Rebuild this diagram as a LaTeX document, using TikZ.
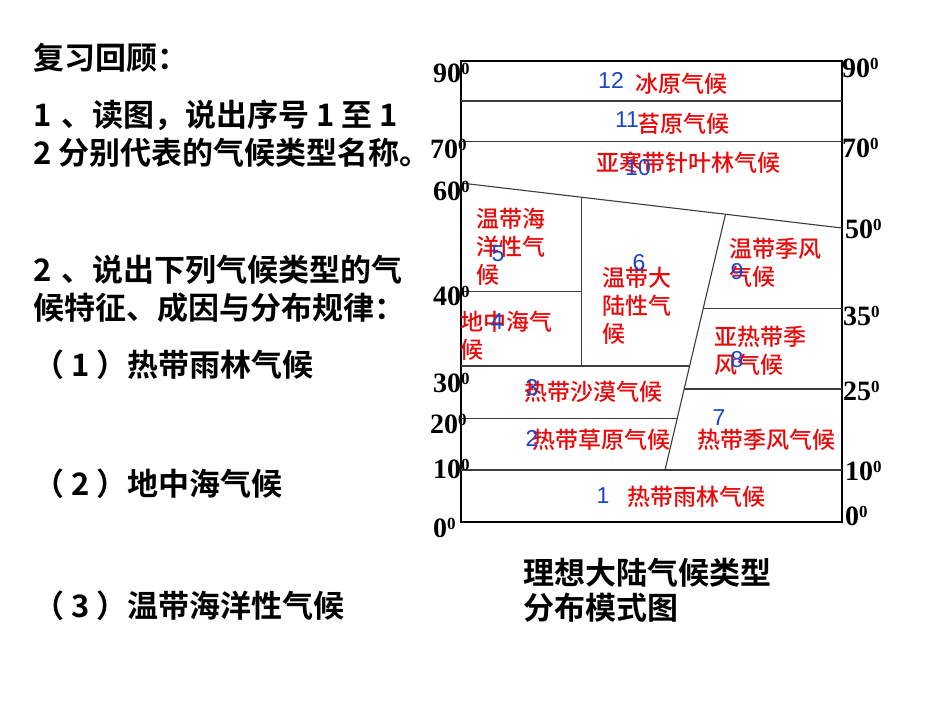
\documentclass[tikz,border=0pt]{standalone}
\usepackage{fontspec}
\setmainfont{Liberation Serif}
\newfontfamily\cjk{Noto Sans CJK SC Medium}
\newfontfamily\cjkb{Noto Sans CJK SC Bold}
\newfontfamily\tnr{Liberation Serif}
\newfontfamily\arialf{Liberation Sans}
\definecolor{zred}{RGB}{232,10,10}
\definecolor{zblue}{RGB}{25,70,200}
\definecolor{zline}{RGB}{60,60,60}
\newcommand\latlab[1]{#1\raisebox{7.5pt}{\fontsize{17}{17}\selectfont 0}}
\tikzset{
  latl/.style={anchor=base west, inner sep=0pt, font=\tnr\bfseries\fontsize{28}{28}\selectfont},
  redtxt/.style={anchor=west, inner sep=0pt, align=left, text=zred, font=\cjk\fontsize{23}{28}\selectfont},
  bluenum/.style={inner sep=0pt, text=zblue, font=\arialf\fontsize{23}{23}\selectfont},
  blacktxt/.style={anchor=west, inner sep=0pt, align=left, font=\cjkb\fontsize{31}{38}\selectfont},
  frame/.style={draw=black, line width=1.2pt},
  zone/.style={draw=zline, line width=1.1pt}
}
\begin{document}
\begin{tikzpicture}[x=1pt,y=-1pt]
\useasboundingbox (0,0) rectangle (950,713);
% frame corners
\coordinate (TL) at (461,61);
\coordinate (TR) at (842,61);
\coordinate (BL) at (461,522);
\coordinate (BR) at (842,522);
\draw[frame] (TL) -- (TR) -- (BR) -- (BL) -- cycle;
% zone boundaries
\coordinate (a1) at (461,101);   \coordinate (a2) at (842,101);
\coordinate (b1) at (461,141.5); \coordinate (b2) at (842,141.5);
\coordinate (s1) at (461,183);   \coordinate (s2) at (842,228);
\coordinate (v1t) at (581.7,197.3); \coordinate (v1b) at (581.7,366);
\coordinate (h40a) at (461,291.7); \coordinate (h40b) at (581.7,291.7);
\coordinate (h30a) at (461,366);   \coordinate (h30b) at (689.6,366);
\coordinate (h20a) at (461,418.3); \coordinate (h20b) at (677.2,418.3);
\coordinate (h10a) at (461,470);   \coordinate (h10b) at (842,470);
\coordinate (t1) at (725.5,214.2); \coordinate (t2) at (665,470);
\coordinate (h35a) at (703.2,308.3); \coordinate (h35b) at (842,308.3);
\coordinate (h25a) at (684.2,389);   \coordinate (h25b) at (842,389);
\draw[zone] (a1) -- (a2);
\draw[zone] (b1) -- (b2);
\draw[zone] (s1) -- (s2);
\draw[zone] (v1t) -- (v1b);
\draw[zone] (h40a) -- (h40b);
\draw[zone] (h30a) -- (h30b);
\draw[zone] (h20a) -- (h20b);
\draw[zone] (h10a) -- (h10b);
\draw[zone] (t1) -- (t2);
\draw[zone] (h35a) -- (h35b);
\draw[zone] (h25a) -- (h25b);
% latitude labels left
\node[latl] (L90) at (433,82) {\latlab{90}};
\node[latl] (L70) at (430,158) {\latlab{70}};
\node[latl] (L60) at (433,200) {\latlab{60}};
\node[latl] (L40) at (433,305) {\latlab{40}};
\node[latl] (L30) at (433,392) {\latlab{30}};
\node[latl] (L20) at (430,433) {\latlab{20}};
\node[latl] (L10) at (433,478) {\latlab{10}};
\node[latl] (L0) at (433,537) {\latlab{0}};
% latitude labels right
\node[latl] (R90) at (842,77) {\latlab{90}};
\node[latl] (R70) at (842,157) {\latlab{70}};
\node[latl] (R50) at (845,238) {\latlab{50}};
\node[latl] (R35) at (843,325) {\latlab{35}};
\node[latl] (R25) at (843,400) {\latlab{25}};
\node[latl] (R10) at (845,480) {\latlab{10}};
\node[latl] (R0) at (845,525) {\latlab{0}};
% climate names
\node[redtxt] (c12) at (635,84) {冰原气候};
\node[redtxt] (c11) at (637,124) {苔原气候};
\node[redtxt] (c10) at (596,163) {亚寒带针叶林气候};
\node[redtxt] (c5) at (476,247) {温带海\\洋性气\\候};
\node[redtxt] (c4) at (460,335.5) {地中海气\\候};
\node[redtxt] (c6) at (602,306) {温带大\\陆性气\\候};
\node[redtxt] (c9) at (729,263) {温带季风\\气候};
\node[redtxt] (c8) at (714,351) {亚热带季\\风气候};
\node[redtxt] (c3) at (524,392) {热带沙漠气候};
\node[redtxt] (c2) at (532,440) {热带草原气候};
\node[redtxt] (c7) at (697,440) {热带季风气候};
\node[redtxt] (c1) at (627,497) {热带雨林气候};
% numbers
\node[bluenum] (n12) at (611,80) {12};
\node[bluenum] (n11) at (627,120) {11};
\node[bluenum] (n10) at (638,168) {10};
\node[bluenum] (n5) at (498,254) {5};
\node[bluenum] (n6) at (639,263) {6};
\node[bluenum] (n9) at (737,272) {9};
\node[bluenum] (n4) at (497,322) {4};
\node[bluenum] (n8) at (737,360) {8};
\node[bluenum] (n3) at (532,388) {3};
\node[bluenum] (n2) at (532,438) {2};
\node[bluenum] (n7) at (719,418) {7};
\node[bluenum] (n1) at (603,496) {1};
% left text
\node[blacktxt] (q0) at (33,58) {复习回顾：};
\node[blacktxt] (q1) at (33,134) {1 \kern3pt、读图，说出序号 1 至 1\\2 分别代表的气候类型名称。};
\node[blacktxt] (q2) at (33,289) {2 \kern3pt、说出下列气候类型的气\\候特征、成因与分布规律：};
\node[blacktxt] (q3) at (33,365) {（ 1 ）热带雨林气候};
\node[blacktxt] (q4) at (33,484) {（ 2 ）地中海气候};
\node[blacktxt] (q5) at (33,606) {（ 3 ）温带海洋性气候};
% caption
\node[blacktxt, font=\cjkb\fontsize{31}{35}\selectfont] (cap) at (523,590.5) {理想大陆气候类型\\分布模式图};
\end{tikzpicture}
\end{document}
